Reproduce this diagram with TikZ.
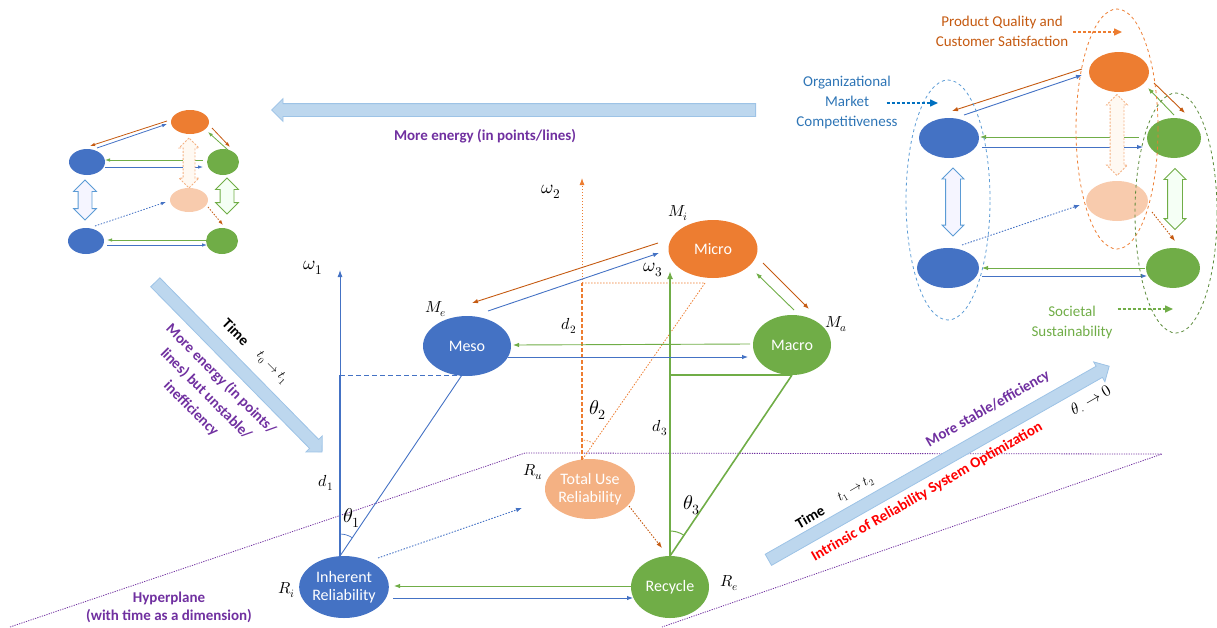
\documentclass[tikz,border=0pt]{standalone}
\usepackage{fontspec}
\usepackage{unicode-math}
\setmainfont{Carlito}
\setmathfont{Latin Modern Math}
\usetikzlibrary{arrows.meta,shapes.geometric,shapes.arrows,calc,angles}
\definecolor{cblue}{HTML}{4472C4}
\definecolor{corange}{HTML}{ED7D31}
\definecolor{cgreen}{HTML}{70AD47}
\definecolor{clight}{HTML}{F4B183}
\definecolor{cpale}{HTML}{F8CBAD}
\definecolor{dorange}{HTML}{C55A11}
\definecolor{cpurple}{HTML}{7030A0}
\definecolor{afill}{HTML}{BDD7EE}
\definecolor{aedge}{HTML}{9DC3E6}
\definecolor{orgblue}{HTML}{2E75B6}
\definecolor{ltblue}{HTML}{5B9BD5}
\definecolor{legblue}{HTML}{0070C0}
\begin{document}
\begin{tikzpicture}[x=1pt,y=-1pt,
  ell/.style={ellipse, draw=none, text=white, inner sep=0pt, align=center,
    font=\fontsize{16}{18}\selectfont},
  sml/.style={ellipse, draw=none, inner sep=0pt},
  con/.style={line width=0.9pt, -{Latex[length=6pt,width=4.5pt]}},
  scon/.style={line width=0.8pt, -{Latex[length=5pt,width=3.5pt]}},
  dots/.style={dash pattern=on 1.5pt off 1.5pt},
  bigarrow/.style={single arrow, fill=afill, draw=aedge, line width=0.8pt,
    inner xsep=0pt, inner ysep=6pt, minimum width=22pt, single arrow head extend=5pt, anchor=tail},
  dbl/.style={double arrow, inner xsep=0pt, inner ysep=6.5pt, rotate=90, line width=0.8pt,
    double arrow head extend=4pt},
  hyp/.style={cpurple, line width=0.8pt, dash pattern=on 1.2pt off 1.2pt},
  lab/.style={font=\fontsize{16}{18}\selectfont, inner sep=0pt},
  tlab/.style={font=\fontsize{13}{15}\selectfont, inner sep=0pt},
  glab/.style={font=\fontsize{19}{21}\selectfont, inner sep=0pt},
  thlab/.style={font=\fontsize{20}{22}\selectfont, inner sep=0pt},
  btxt/.style={font=\bfseries\fontsize{15}{20}\selectfont, align=center, inner sep=0pt},
  ttxt/.style={font=\fontsize{15}{20}\selectfont, align=center, inner sep=0pt},
  legarrow/.style={line width=1.5pt, dash pattern=on 3pt off 2pt, -{Triangle[length=8pt,width=7pt]}}
]
\useasboundingbox (0,0) rectangle (1217,627);

% hyperplane
\coordinate (h1) at (10,627);
\coordinate (h2) at (525,453);
\coordinate (h3) at (1162,454);
\coordinate (h4) at (662,627);
\draw[hyp] (h1) -- (h2) -- (h3) -- (h4);
\node[btxt, text=cpurple, font=\bfseries\fontsize{15}{18}\selectfont] (hyptxt) at (169,607) {Hyperplane\\(with time as a dimension)};

% big block arrows
\node[bigarrow, minimum height=484pt, rotate=180] (topar) at (756,110) {};
\node[btxt, text=cpurple] (topt) at (485,136) {More energy (in points/lines)};
\node[bigarrow, minimum height=238pt, rotate=-45.5] (leftar) at (155,282) {};
\node[btxt, rotate=-45] (time1) at (236,332) {Time};
\node[tlab, rotate=-45] (tt1) at (272,368) {$t_0\rightarrow t_1$};
\node[btxt, text=cpurple, rotate=-45, font=\bfseries\fontsize{15}{21}\selectfont] (lefttxt) at (206,394) {More energy (in points/\\lines) but unstable/\\inefficiency};
\node[bigarrow, minimum height=392pt, rotate=29.6] (rightar) at (768,560) {};
\node[btxt, rotate=30] (time2) at (810,517) {Time};
\node[tlab, rotate=30] (tt2) at (856,489) {$t_1\rightarrow t_2$};
\node[btxt, text=cpurple, rotate=30] (stab) at (988,409) {More stable/efficiency};
\node[btxt, text=red, rotate=30] (intr) at (927,492) {Intrinsic of Reliability System Optimization};
\node[lab, rotate=30] (thz) at (1092,401) {$\theta_{\cdot}\rightarrow 0$};

% main nodes
\node[ell, fill=cblue, minimum width=88pt, minimum height=60pt] (meso) at (467,346) {Meso};
\node[ell, fill=corange, minimum width=89pt, minimum height=58pt] (mic) at (713,249) {Micro};
\node[ell, fill=cgreen, minimum width=78pt, minimum height=60pt] (mac) at (792,345) {Macro};
\node[ell, fill=cblue, minimum width=88pt, minimum height=62pt] (inh) at (344,587) {Inherent\\Reliability};
\node[ell, fill=clight, minimum width=90pt, minimum height=60pt] (tot) at (590,489) {Total Use\\Reliability};
\node[ell, fill=cgreen, minimum width=78pt, minimum height=62pt] (rec) at (670,587) {Recycle};

% axis 1
\coordinate (o1) at (340,556);
\coordinate (c1) at (340,375);
\coordinate (w1) at (340,270);
\coordinate (m1) at (462,375);
\draw[cblue, line width=2.5pt] (o1) -- (c1);
\draw[cblue, line width=0.9pt, -{Latex[length=7pt,width=5pt]}] (c1) -- (w1);
\draw[cblue, line width=1pt, dash pattern=on 5pt off 3pt] (c1) -- (m1);
\draw[cblue, line width=0.9pt] (o1) -- (m1);
\pic[draw=cblue, line width=0.7pt, angle radius=22pt] {angle = m1--o1--w1};

% axis 2
\coordinate (o2) at (582,460);
\coordinate (c2) at (582,283);
\coordinate (w2) at (582,178);
\coordinate (p2) at (705,283);
\draw[corange, line width=2.6pt, dash pattern=on 4pt off 2pt] (o2) -- (c2);
\draw[corange, line width=0.8pt, dots, -{Latex[length=7pt,width=5pt]}] (c2) -- (w2);
\draw[corange, line width=0.8pt, dots] (c2) -- (p2) -- (o2);
\pic[draw=corange, line width=0.7pt, dots, angle radius=20pt] {angle = p2--o2--c2};

% axis 3
\coordinate (o3) at (670,556);
\coordinate (c3) at (670,375);
\coordinate (w3) at (670,271);
\coordinate (m3) at (792,375);
\draw[cgreen, line width=2pt, -{Latex[length=8pt,width=6pt]}] (o3) -- (w3);
\draw[cgreen, line width=2pt] (c3) -- (m3);
\draw[cgreen, line width=1.6pt] (o3) -- (m3);
\pic[draw=cgreen, line width=1pt, angle radius=25pt] {angle = m3--o3--w3};

% labels
\node[glab] (lw1) at (313,268) {$\omega_1$};
\node[glab] (lw2) at (551,192) {$\omega_2$};
\node[glab] (lw3) at (653,270) {$\omega_3$};
\node[lab] (lme) at (436,309) {$M_e$};
\node[lab] (lmi) at (678,213) {$M_i$};
\node[lab] (lma) at (836,324) {$M_a$};
\node[lab] (lru) at (533,472) {$R_u$};
\node[lab] (lri) at (287,590) {$R_i$};
\node[lab] (lre) at (729,583) {$R_e$};
\node[lab] (ld1) at (326,483) {$d_1$};
\node[lab] (ld2) at (569,326) {$d_2$};
\node[lab] (ld3) at (660,428) {$d_3$};
\node[thlab] (lt1) at (352,518) {$\theta_1$};
\node[thlab] (lt2) at (598,410) {$\theta_2$};
\node[thlab] (lt3) at (692,505) {$\theta_3$};

% main connectors
\draw[con, dorange] ($(mic)+(-55,-6)$) -- ($(meso)+(5,-43)$);
\draw[con, cblue] ($(meso)+(21,-35)$) -- ($(mic)+(-54,4)$);
\draw[con, cgreen] ($(mac)+(-42,-1)$) -- ($(meso)+(46,-1)$);
\draw[con, cblue] ($(meso)+(41,11)$) -- ($(mac)+(-44,12)$);
\draw[con, dorange] ($(mic)+(50,14)$) -- ($(mac)+(17,-36)$);
\draw[con, cgreen] ($(mac)+(2,-35)$) -- ($(mic)+(43,24)$);
\draw[con, cgreen] ($(rec)+(-39,-1)$) -- ($(inh)+(50,-1)$);
\draw[con, cblue] ($(inh)+(49,11)$) -- ($(rec)+(-37,11)$);
\draw[con, dorange, dots] ($(tot)+(39,17)$) -- ($(rec)+(-8,-39)$);
\draw[con, cblue, dots] ($(inh)+(34,-29)$) -- ($(tot)+(-68,19)$);

% top-left small diagram
\node[sml, fill=corange, minimum width=38pt, minimum height=24pt] (a1) at (190,122) {};
\node[sml, fill=cblue, minimum width=36pt, minimum height=26pt] (b1) at (87,162) {};
\node[sml, fill=cgreen, minimum width=32pt, minimum height=26pt] (g1) at (223,162) {};
\node[sml, fill=cpale, minimum width=38pt, minimum height=24pt] (l1) at (189,200) {};
\node[sml, fill=cblue, minimum width=36pt, minimum height=26pt] (b2) at (86,241) {};
\node[sml, fill=cgreen, minimum width=32pt, minimum height=26pt] (g2) at (222,241) {};
\draw[scon, dorange] ($(a1)+(-23,-1)$) -- ($(b1)+(3,-16)$);
\draw[scon, cblue] ($(b1)+(10,-14)$) -- ($(a1)+(-23,2)$);
\draw[scon, cgreen] ($(g1)+(-20,-2)$) -- ($(b1)+(18,-2)$);
\draw[scon, cblue] ($(b1)+(18,5)$) -- ($(g1)+(-20,5)$);
\draw[scon, dorange] ($(a1)+(22,6)$) -- ($(g1)+(7,-15)$);
\draw[scon, cgreen] ($(g1)+(5,-12)$) -- ($(a1)+(18,10)$);
\draw[scon, dorange, dots] ($(l1)+(19,7)$) -- ($(g2)+(1,-16)$);
\draw[scon, cblue, dots] ($(b2)+(9,-15)$) -- ($(l1)+(-23,2)$);
\draw[scon, cgreen] ($(g2)+(-16,-1)$) -- ($(b2)+(21,-1)$);
\draw[scon, cblue] ($(b2)+(21,4)$) -- ($(g2)+(-15,4)$);
\node[dbl, draw=ltblue, fill=blue!4, minimum height=40pt, inner ysep=6.5pt, double arrow head extend=4.5pt] (dbl1) at (85,200) {};
\node[dbl, draw=cgreen, fill=green!4, minimum height=36pt, inner ysep=6.5pt, double arrow head extend=4.5pt] (dbl2) at (227,196) {};
\node[dbl, draw=clight, fill=orange!5, dash pattern=on 2pt off 1.5pt, minimum height=50pt, inner ysep=5.5pt, double arrow head extend=4pt] (dbl3) at (189,163) {};

% top-right diagram
\node[sml, fill=corange, minimum width=60pt, minimum height=40pt] (A) at (1119,72) {};
\node[sml, fill=cblue, minimum width=60pt, minimum height=40pt] (B) at (949,138) {};
\node[sml, fill=cgreen, minimum width=54pt, minimum height=40pt] (G) at (1174,138) {};
\node[sml, fill=cpale, minimum width=62pt, minimum height=40pt] (L) at (1117,201) {};
\node[sml, fill=cblue, minimum width=62pt, minimum height=40pt] (B2) at (948,268) {};
\node[sml, fill=cgreen, minimum width=54pt, minimum height=40pt] (G2) at (1173,268) {};
\draw[con, dorange] ($(A)+(-37,-3)$) -- ($(B)+(3,-27)$);
\draw[con, cblue] ($(B)+(15,-23)$) -- ($(A)+(-37,3)$);
\draw[con, cgreen] ($(G)+(-35,-1)$) -- ($(B)+(31,-1)$);
\draw[con, cblue] ($(B)+(33,9)$) -- ($(G)+(-31,9)$);
\draw[con, dorange] ($(A)+(35,11)$) -- ($(G)+(11,-25)$);
\draw[con, cgreen] ($(G)+(0,-23)$) -- ($(A)+(29,16)$);
\draw[con, dorange, dots] ($(L)+(35,11)$) -- ($(G2)+(2,-27)$);
\draw[con, cblue, dots] ($(B2)+(14,-23)$) -- ($(L)+(-37,4)$);
\draw[con, cgreen] ($(G2)+(-28,0)$) -- ($(B2)+(34,0)$);
\draw[con, cblue] ($(B2)+(34,8)$) -- ($(G2)+(-26,8)$);
\node[dbl, draw=ltblue, fill=blue!4, minimum height=68pt, inner ysep=7pt, double arrow head extend=3.5pt] (dbl4) at (953,202) {};
\node[dbl, draw=cgreen, fill=green!4, minimum height=61pt, inner ysep=7pt, double arrow head extend=3.5pt] (dbl5) at (1175,199) {};
\node[dbl, draw=clight, fill=orange!5, dash pattern=on 2pt off 1.5pt, minimum height=81pt, inner ysep=6.5pt, double arrow head extend=3.5pt] (dbl6) at (1117,135) {};
\node[ellipse, draw=ltblue, dashed, line width=0.8pt, minimum width=84pt, minimum height=240pt] (eB) at (948,200) {};
\node[ellipse, draw=corange, dashed, line width=0.8pt, minimum width=82pt, minimum height=240pt] (eA) at (1117,129) {};
\node[ellipse, draw=cgreen!80!black, dashed, line width=0.8pt, minimum width=82pt, minimum height=240pt] (eG) at (1176,213) {};

% legends
\node[ttxt, text=dorange] (pq) at (1002,31) {Product Quality and\\Customer Satisfaction};
\coordinate (pqe) at (1122,32);
\draw[legarrow, corange] ($(pq.east)+(5,1)$) -- (pqe);
\node[ttxt, text=orgblue] (omc) at (847,102) {Organizational\\Market\\Competitiveness};
\coordinate (omce) at (938,103);
\draw[legarrow, legblue] ($(omc.east)+(-11,1)$) -- (omce);
\node[ttxt, text=cgreen] (ss) at (1072,322) {Societal\\Sustainability};
\coordinate (sse) at (1173,309);
\draw[legarrow, cgreen] ($(ss.east)+(5,-13)$) -- (sse);
\end{tikzpicture}
\end{document}
